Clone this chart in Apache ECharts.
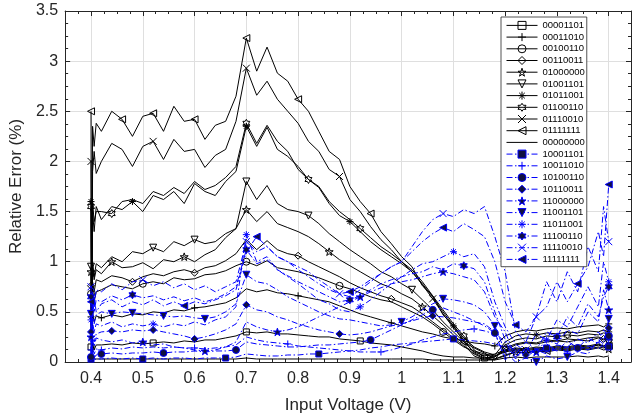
<!DOCTYPE html>
<html>
<head>
<meta charset="utf-8">
<script src="https://cdn.jsdelivr.net/npm/echarts@6/dist/echarts.min.js"></script>
<style>html,body{margin:0;padding:0;background:#fff;}#chart{width:633px;height:419px;}</style>
</head>
<body>
<div id="chart"></div>
<script>
// ---- data ----
const X = [0.400,0.401,0.403,0.406,0.410, 0.42,0.44,0.46,0.48,0.50, 0.52,0.54,0.56,0.58,0.60, 0.62,0.64,0.66,0.68,0.70,
  0.72,0.74,0.76,0.78,0.80, 0.82,0.84,0.86,0.88,0.90, 0.92,0.94,0.96,0.98,1.00, 1.02,1.04,1.06,1.08,1.10,
  1.12,1.14,1.16,1.18,1.20, 1.22,1.24,1.26,1.28,1.30, 1.32,1.34,1.36,1.38,1.39,1.40];
const X_TICKS = [0.4,0.5,0.6,0.7,0.8,0.9,1.0,1.1,1.2,1.3,1.4];
const Y_TICKS = [0,0.5,1,1.5,2,2.5,3,3.5];

const s00001101 = [0.15,0.02,0.18,0.12,0.17, 0.17,0.18,0.17,0.19,0.18, 0.19,0.2,0.19,0.21,0.2, 0.22,0.22,0.24,0.26,0.30, 0.29,0.3,0.28,0.28,0.27, 0.26,0.25,0.25,0.23,0.22, 0.21,0.19,0.18,0.17,0.15, 0.13,0.11,0.08,0.06,0.05, 0.05,0.04,0.04,0.05,0.12, 0.17,0.19,0.18,0.2,0.21, 0.2,0.22,0.21,0.24,0.22,0.25];
const s00011010 = [0.45,0.05,0.5,0.4,0.46, 0.44,0.47,0.45,0.48,0.47, 0.5,0.49,0.52,0.51,0.54, 0.55,0.57,0.59,0.64,0.73, 0.7,0.72,0.69,0.68,0.66, 0.64,0.62,0.6,0.56,0.52, 0.48,0.45,0.42,0.39,0.36, 0.33,0.3,0.28,0.25,0.23, 0.21,0.19,0.18,0.16,0.26, 0.3,0.32,0.31,0.33,0.34, 0.33,0.35,0.36,0.37,0.35,0.38];
const s00100110 = [0.68,0.08,0.72,0.6,0.7, 0.72,0.77,0.75,0.73,0.78, 0.8,0.78,0.84,0.82,0.83, 0.87,0.88,0.91,0.96,1.0, 0.96,1.01,0.94,0.92,0.9, 0.87,0.84,0.8,0.76,0.73, 0.69,0.65,0.62,0.6,0.55, 0.5,0.45,0.38,0.3,0.22, 0.15,0.11,0.08,0.06,0.1, 0.12,0.11,0.13,0.12,0.14, 0.13,0.15,0.14,0.17,0.15,0.16];
const s00110011 = [0.76,0.1,0.8,0.7,0.82, 0.8,0.86,0.84,0.8,0.85, 0.88,0.86,0.9,0.92,0.89, 0.94,0.96,1.01,1.08,1.22, 1.12,1.21,1.12,1.08,1.06, 1.0,0.95,0.9,0.85,0.79, 0.74,0.7,0.66,0.63,0.59, 0.55,0.48,0.4,0.32,0.24, 0.16,0.08,0.03,0.05,0.14, 0.18,0.2,0.19,0.22,0.21, 0.23,0.22,0.24,0.25,0.23,0.26];
const s01000000 = [0.9,0.12,0.95,0.82,0.92, 0.88,1.0,0.94,0.95,0.99, 0.93,1.02,1.0,1.05,1.0, 1.07,1.12,1.24,1.33,1.52, 1.4,1.5,1.38,1.34,1.3, 1.25,1.18,1.1,1.02,0.96, 0.9,0.84,0.78,0.74,0.68, 0.63,0.55,0.46,0.37,0.27, 0.18,0.06,0.02,0.03,0.06, 0.1,0.09,0.11,0.1,0.12, 0.11,0.13,0.12,0.14,0.12,0.13];
const s01001101 = [0.95,0.1,1.0,0.85,0.98, 0.94,1.05,1.0,1.1,1.08, 1.14,1.1,1.2,1.16,1.22, 1.18,1.2,1.28,1.33,1.8, 1.62,1.76,1.58,1.52,1.5, 1.46,1.38,1.28,1.2,1.12, 1.05,0.98,0.9,0.85,0.78, 0.72,0.62,0.52,0.4,0.3, 0.2,0.1,0.06,0.08,0.12, 0.14,0.13,0.15,0.14,0.16, 0.15,0.17,0.16,0.18,0.16,0.19];
const s01011001 = [1.6,0.15,1.5,1.3,1.55, 1.42,1.55,1.52,1.6,1.5, 1.66,1.62,1.7,1.58,1.78, 1.7,1.66,1.8,1.9,2.35, 2.15,2.34,2.12,2.05,1.95, 1.82,1.74,1.58,1.46,1.4, 1.3,1.2,1.12,1.05,0.98, 0.9,0.78,0.65,0.5,0.36, 0.24,0.15,0.1,0.07,0.2, 0.26,0.28,0.27,0.29,0.28, 0.3,0.29,0.31,0.3,0.32,0.3];
const s01100110 = [1.55,0.2,1.6,1.4,1.5, 1.5,1.48,1.6,1.62,1.58, 1.7,1.66,1.74,1.68,1.8, 1.72,1.76,1.84,1.95,2.38, 2.18,2.36,2.2,2.1,1.92, 1.82,1.75,1.6,1.5,1.42, 1.33,1.24,1.15,1.08,1.0, 0.92,0.8,0.66,0.52,0.38, 0.26,0.12,0.05,0.02,0.17, 0.22,0.24,0.23,0.26,0.25, 0.27,0.26,0.28,0.27,0.29,0.28];
const s01110010 = [2.0,0.2,1.9,2.1,1.88, 2.0,2.18,2.12,1.95,2.15, 2.2,2.02,2.22,2.1,2.12, 1.94,2.06,2.12,2.4,2.93, 2.66,2.8,2.62,2.5,2.38, 2.2,2.1,1.92,1.85,1.62, 1.5,1.35,1.22,1.12,1.0, 0.9,0.77,0.63,0.48,0.34, 0.22,0.09,0.04,0.06,0.11, 0.13,0.12,0.14,0.13,0.15, 0.14,0.16,0.15,0.17,0.16,0.18];
const s01111111 = [2.5,0.1,2.35,2.15,2.38, 2.3,2.5,2.42,2.25,2.45, 2.48,2.3,2.55,2.4,2.42, 2.22,2.36,2.4,2.65,3.23, 2.9,3.14,2.88,2.8,2.62, 2.5,2.3,2.1,2.02,1.75, 1.6,1.48,1.3,1.18,1.05, 0.95,0.76,0.66,0.47,0.36, 0.2,0.14,0.09,0.03,0.07, 0.1,0.09,0.12,0.11,0.13, 0.12,0.14,0.13,0.15,0.14,0.16];
const s00000000 = [0.03,0.01,0.03,0.02,0.03, 0.03,0.03,0.03,0.03,0.03, 0.03,0.03,0.03,0.03,0.03, 0.03,0.03,0.03,0.03,0.04, 0.03,0.03,0.03,0.03,0.03, 0.03,0.03,0.03,0.03,0.03, 0.03,0.03,0.03,0.03,0.03, 0.03,0.03,0.02,0.02,0.02, 0.02,0.02,0.02,0.02,0.04, 0.05,0.04,0.05,0.05,0.05, 0.05,0.06,0.05,0.06,0.05,0.06];
const s10001101 = [0.03,0.01,0.04,0.02,0.03, 0.03,0.04,0.03,0.04,0.03, 0.04,0.03,0.04,0.04,0.03, 0.04,0.04,0.04,0.05,0.08, 0.07,0.06,0.06,0.07,0.07, 0.08,0.08,0.09,0.1,0.11, 0.12,0.14,0.15,0.17,0.18, 0.19,0.2,0.21,0.22,0.23, 0.22,0.21,0.2,0.18,0.15, 0.06,0.12,0.09,0.14,0.11, 0.15,0.12,0.16,0.13,0.18,0.15];
const s10011010 = [0.12,0.02,0.14,0.08,0.13, 0.12,0.14,0.13,0.15,0.14, 0.15,0.14,0.15,0.14,0.14, 0.13,0.14,0.15,0.17,0.25, 0.22,0.2,0.19,0.18,0.16, 0.15,0.14,0.13,0.12,0.11, 0.1,0.1,0.1,0.12,0.15, 0.18,0.22,0.25,0.28,0.3, 0.32,0.33,0.31,0.28,0.05, 0.15,0.05,0.12,0.08,0.14, 0.1,0.16,0.12,0.2,0.14,0.22];
const s10100110 = [0.05,0.02,0.08,0.04,0.07, 0.08,0.09,0.08,0.09,0.09, 0.1,0.09,0.1,0.1,0.11, 0.1,0.11,0.11,0.12,0.2, 0.18,0.17,0.16,0.15,0.15, 0.16,0.17,0.17,0.18,0.19, 0.2,0.22,0.27,0.32,0.37, 0.42,0.47,0.52,0.54,0.5, 0.46,0.41,0.36,0.29,0.2, 0.03,0.14,0.08,0.18,0.11, 0.21,0.14,0.24,0.18,0.32,0.26];
const s10110011 = [0.3,0.05,0.32,0.2,0.28, 0.3,0.31,0.3,0.32,0.31, 0.32,0.3,0.28,0.26,0.23, 0.25,0.28,0.32,0.38,0.57, 0.52,0.5,0.45,0.42,0.38, 0.35,0.32,0.3,0.28,0.27, 0.28,0.3,0.33,0.36,0.38, 0.41,0.44,0.46,0.45,0.44, 0.42,0.4,0.38,0.3,0.02, 0.12,0.07,0.13,0.1,0.17, 0.15,0.23,0.19,0.3,0.22,0.34];
const s11000000 = [0.25,0.05,0.22,0.15,0.24, 0.22,0.2,0.22,0.19,0.2, 0.17,0.18,0.15,0.14,0.12, 0.11,0.12,0.15,0.2,0.4, 0.35,0.32,0.3,0.32,0.35, 0.4,0.45,0.5,0.55,0.6, 0.65,0.7,0.74,0.78,0.8, 0.82,0.85,0.88,0.9,0.88, 0.85,0.82,0.7,0.45,0.3, 0.05,0.14,0.1,0.22,0.18, 0.32,0.28,0.5,0.4,0.72,0.52];
const s11001101 = [0.48,0.05,0.5,0.38,0.47, 0.5,0.48,0.5,0.49,0.48, 0.47,0.46,0.45,0.46,0.44, 0.43,0.45,0.5,0.58,0.87, 0.8,0.78,0.72,0.65,0.6, 0.55,0.5,0.46,0.43,0.42, 0.4,0.38,0.36,0.37,0.4, 0.45,0.52,0.58,0.63,0.62, 0.6,0.57,0.5,0.36,0.1, 0.0,0.04,0.0,0.06,0.03, 0.05,0.1,0.08,0.22,0.18,0.43];
const s11011001 = [0.42,0.05,0.4,0.3,0.38, 0.36,0.4,0.35,0.38,0.36, 0.38,0.35,0.38,0.36,0.4, 0.37,0.42,0.45,0.55,1.27, 1.0,1.05,0.92,0.85,0.78, 0.7,0.62,0.58,0.52,0.5, 0.55,0.62,0.7,0.78,0.85, 0.92,0.98,1.0,1.05,1.1, 1.05,1.08,0.95,0.6,0.35, 0.18,0.1,0.28,0.22,0.42, 0.35,0.55,0.75,0.55,1.0,0.8];
const s11100110 = [0.65,0.08,0.6,0.5,0.62, 0.6,0.66,0.62,0.67,0.64, 0.66,0.62,0.65,0.61,0.64, 0.6,0.63,0.68,0.75,1.12, 0.98,1.02,0.92,0.86,0.8, 0.75,0.7,0.65,0.6,0.62, 0.66,0.72,0.78,0.82,0.85, 0.88,0.9,0.95,0.92,0.98, 0.96,0.93,0.8,0.5,0.22, 0.08,0.2,0.12,0.3,0.25, 0.45,0.35,0.58,0.45,0.65,0.75];
const s11110010 = [0.75,0.1,0.7,0.55,0.72, 0.7,0.78,0.72,0.8,0.82, 0.76,0.8,0.74,0.78,0.72, 0.76,0.7,0.75,0.8,1.2, 1.1,1.15,1.05,1.0,0.95, 0.9,0.82,0.75,0.68,0.65, 0.72,0.8,0.88,0.95,1.0, 1.15,1.3,1.42,1.48,1.45, 1.52,1.48,1.55,1.25,0.9, 0.3,0.2,0.45,0.8,0.6, 0.9,0.7,1.15,0.9,1.55,1.2];
const s11111111 = [0.6,0.05,0.55,0.65,0.5, 0.58,0.62,0.55,0.6,0.57, 0.62,0.56,0.6,0.56,0.6, 0.58,0.62,0.66,0.72,1.1, 1.25,1.15,1.05,1.0,0.92, 0.85,0.78,0.72,0.68,0.7, 0.75,0.82,0.88,0.95,1.0, 1.1,1.2,1.28,1.34,1.3, 1.38,1.32,1.25,1.0,0.6, 0.37,0.3,0.45,0.55,0.8, 0.6,0.78,0.95,1.3,1.05,1.77];

// ---- marker symbols ----
const SYM = {
  square: 'rect', circle: 'circle', diamond: 'diamond',
  plus: 'path://M5,0L5,10M0,5L10,5',
  cross: 'path://M0,0L10,10M10,0L0,10',
  asterisk: 'path://M5,0L5,10M0,5L10,5M1.5,1.5L8.5,8.5M8.5,1.5L1.5,8.5',
  star: 'path://M5,0L6.12,3.45L9.76,3.45L6.82,5.59L7.94,9.05L5,6.91L2.06,9.05L3.18,5.59L0.24,3.45L3.88,3.45Z',
  hexagram: 'path://M5,0L6.44,2.5L9.33,2.5L7.89,5L9.33,7.5L6.44,7.5L5,10L3.56,7.5L0.67,7.5L2.11,5L0.67,2.5L3.56,2.5Z',
  triDown: 'path://M0,0L10,0L5,10Z',
  triLeft: 'path://M0,5L10,0L10,10Z',
  none: 'none'
};
const OPEN = { plus: 1, cross: 1, asterisk: 1 };

const defs = [
  { name: '00001101', y: s00001101, sym: 'square',   blue: false, marks: [0,10,19,30,42,55] },
  { name: '00011010', y: s00011010, sym: 'plus',     blue: false, marks: [0,5,14,24,33,43,55] },
  { name: '00100110', y: s00100110, sym: 'circle',   blue: false, marks: [0,9,19,28,38,46,55] },
  { name: '00110011', y: s00110011, sym: 'diamond',  blue: false, marks: [0,8,14,24,33,44,54] },
  { name: '01000000', y: s01000000, sym: 'star',     blue: false, marks: [0,6,13,19,27,36,45,55] },
  { name: '01001101', y: s01001101, sym: 'triDown',  blue: false, marks: [0,10,14,19,25,35,44,55] },
  { name: '01011001', y: s01011001, sym: 'asterisk', blue: false, marks: [0,8,19,29,39,47,55] },
  { name: '01100110', y: s01100110, sym: 'hexagram', blue: false, marks: [0,6,19,25,30,40,50] },
  { name: '01110010', y: s01110010, sym: 'cross',    blue: false, marks: [0,10,19,28,37,46,55] },
  { name: '01111111', y: s01111111, sym: 'triLeft',  blue: false, marks: [0,7,10,14,19,24,31,40,48,55] },
  { name: '00000000', y: s00000000, sym: 'none',     blue: false, marks: [] },
  { name: '10001101', y: s10001101, sym: 'square',   blue: true, marks: [0,9,17,26,39,48,55] },
  { name: '10011010', y: s10011010, sym: 'plus',     blue: true, marks: [0,5,14,23,32,41,50,55] },
  { name: '10100110', y: s10100110, sym: 'circle',   blue: true, marks: [0,5,11,18,31,37,43,51,55] },
  { name: '10110011', y: s10110011, sym: 'diamond',  blue: true, marks: [0,6,10,14,19,28,37,46,55] },
  { name: '11000000', y: s11000000, sym: 'star',     blue: true, marks: [0,9,15,22,30,38,47,55] },
  { name: '11001101', y: s11001101, sym: 'triDown',  blue: true, marks: [0,6,8,11,15,19,34,38,43,47,50,55] },
  { name: '11011001', y: s11011001, sym: 'asterisk', blue: true, marks: [0,10,19,30,39,48,55] },
  { name: '11100110', y: s11100110, sym: 'hexagram', blue: true, marks: [0,8,19,29,40,49,55] },
  { name: '11110010', y: s11110010, sym: 'cross',    blue: true, marks: [0,9,19,28,38,47,55] },
  { name: '11111111', y: s11111111, sym: 'triLeft',  blue: true, marks: [0,13,20,29,38,45,51,55] }
];

// ---- styles ----
const FONT = '"Liberation Sans", Arial, Helvetica, sans-serif';
const AX = '#262626';
const GRIDC = '#dfdfdf';
const BLUE = '#0000ff';
const DASHDOT = [6, 2.5, 1.5, 2.5];
const FILL_BLUE = '#101040';

function styleOf(d) {
  const line = { color: d.blue ? BLUE : '#000000', width: 1, type: d.blue ? DASHDOT : 'solid' };
  let fill = 'rgba(0,0,0,0)';
  if (d.blue && !OPEN[d.sym]) fill = FILL_BLUE;
  const item = { color: fill, borderColor: d.blue ? BLUE : '#000000', borderWidth: d.sym === 'none' ? 0 : 1 };
  return { line, item };
}
function symSize(s) {
  if (s === 'square') return 6;
  if (s === 'star' || s === 'hexagram') return 8;
  return 7;
}

const X_MINOR = [];
for (let k = 14; k <= 57; k++) X_MINOR.push(+(k * 0.025).toFixed(3));

const fmtX = v => String(+(+v).toFixed(2));
const xBase = { type: 'value', min: 0.35, max: 1.443, gridIndex: 0 };
const yBase = { type: 'value', min: 0, max: 3.5, interval: 0.5, gridIndex: 0 };

const option = {
  animation: false,
  backgroundColor: '#ffffff',
  grid: { left: 60, right: 2, top: 11, bottom: 55.5, containLabel: false },
  xAxis: [
    Object.assign({}, xBase, {
      position: 'bottom',
      axisLine: { show: true, onZero: false, lineStyle: { color: AX, width: 1 } },
      axisTick: { show: true, inside: true, length: 5, customValues: X_TICKS, lineStyle: { color: AX } },
      axisLabel: { show: true, customValues: X_TICKS, formatter: fmtX, color: AX, fontSize: 16, fontFamily: FONT, margin: 9 },
      splitLine: { show: true, lineStyle: { color: GRIDC, width: 1 } },
      name: 'Input Voltage (V)', nameLocation: 'middle', nameGap: 35,
      nameTextStyle: { fontSize: 17, color: AX, fontFamily: FONT }
    }),
    Object.assign({}, xBase, {
      position: 'bottom',
      axisLine: { show: false, onZero: false },
      axisTick: { show: true, inside: true, length: 3, customValues: X_MINOR, lineStyle: { color: AX } },
      axisLabel: { show: false }, splitLine: { show: false }
    }),
    Object.assign({}, xBase, {
      position: 'top',
      axisLine: { show: true, onZero: false, lineStyle: { color: AX, width: 1 } },
      axisTick: { show: true, inside: true, length: 5, customValues: X_TICKS, lineStyle: { color: AX } },
      axisLabel: { show: false }, splitLine: { show: false }
    }),
    Object.assign({}, xBase, {
      position: 'top',
      axisLine: { show: false, onZero: false },
      axisTick: { show: true, inside: true, length: 3, customValues: X_MINOR, lineStyle: { color: AX } },
      axisLabel: { show: false }, splitLine: { show: false }
    })
  ],
  yAxis: [
    Object.assign({}, yBase, {
      position: 'left',
      axisLine: { show: true, onZero: false, lineStyle: { color: AX, width: 1 } },
      axisTick: { show: true, inside: true, length: 5, lineStyle: { color: AX } },
      minorTick: { show: true, splitNumber: 4, length: 3, lineStyle: { color: AX } },
      axisLabel: { show: true, color: AX, fontSize: 16, fontFamily: FONT, margin: 7, formatter: v => String(v) },
      splitLine: { show: true, lineStyle: { color: GRIDC, width: 1 } },
      name: 'Relative Error (%)', nameLocation: 'middle', nameGap: 35, nameRotate: 90,
      nameTextStyle: { fontSize: 17, color: AX, fontFamily: FONT }
    }),
    Object.assign({}, yBase, {
      position: 'right',
      axisLine: { show: true, onZero: false, lineStyle: { color: AX, width: 1 } },
      axisTick: { show: true, inside: true, length: 5, lineStyle: { color: AX } },
      minorTick: { show: true, splitNumber: 4, length: 3, lineStyle: { color: AX } },
      axisLabel: { show: false }, splitLine: { show: false }
    })
  ],
  legend: {
    orient: 'vertical', left: 501, top: 17,
    padding: [3.4, 2, 2.3, 5],
    itemWidth: 31, itemHeight: 10, itemGap: 1.7,
    backgroundColor: '#ffffff', borderColor: AX, borderWidth: 0.8, borderRadius: 0,
    selectedMode: false,
    textStyle: { fontSize: 9.5, fontFamily: FONT, color: '#000', lineHeight: 10 },
    data: defs.map(d => {
      const st = styleOf(d);
      return { name: d.name, itemStyle: st.item, lineStyle: st.line };
    })
  },
  series: defs.map((d, si) => {
    const st = styleOf(d);
    const mk = new Set(d.marks);
    return {
      type: 'line', name: d.name, xAxisIndex: 0, yAxisIndex: 0,
      symbol: SYM[d.sym], symbolSize: symSize(d.sym), symbolKeepAspect: true,
      showSymbol: true, showAllSymbol: true, clip: true, silent: true,
      lineStyle: Object.assign({ join: 'round' }, st.line),
      itemStyle: st.item,
      emphasis: { disabled: true },
      z: 2 + (d.blue ? 1 : 0),
      data: X.map((x, i) => mk.has(i) ? { value: [x, d.y[i]] } : { value: [x, d.y[i]], symbol: 'none' })
    };
  })
};

const chart = echarts.init(document.getElementById('chart'), null, { renderer: 'canvas' });
chart.setOption(option);
</script>
</body>
</html>
